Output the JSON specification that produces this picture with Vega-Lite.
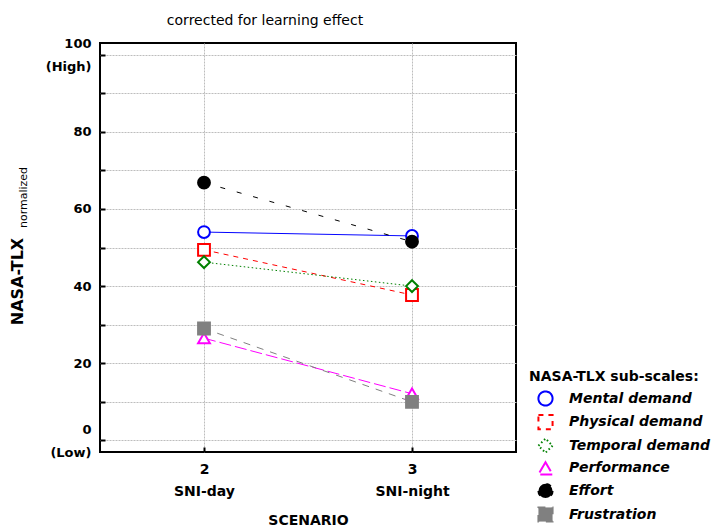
{
  "$schema": "https://vega.github.io/schema/vega-lite/v6.json",
  "width": 416,
  "height": 409,
  "autosize": {"type": "none"},
  "padding": {"left": 100, "top": 43, "right": 210, "bottom": 79},
  "background": "white",
  "title": {"text": "corrected for learning effect", "font": "DejaVu Sans", "fontSize": 14, "fontWeight": "normal", "color": "black", "anchor": "middle", "dx": -43, "offset": 20, "dy": 21, "baseline": "alphabetic"},
  "config": {
    "view": {"stroke": "black", "strokeWidth": 2},
    "axis": {"gridColor": "#bdbdbd", "gridDash": [2, 1], "gridWidth": 1, "domain": false, "ticks": false, "labelColor": "black", "titleColor": "black", "labelFont": "DejaVu Sans", "titleFont": "DejaVu Sans"},
    "legend": {"orient": "none", "legendX": 429, "legendY": 327, "title": "NASA-TLX sub-scales:", "titleFont": "DejaVu Sans", "titleFontSize": 14, "titleFontWeight": "bold", "titleColor": "black", "titlePadding": 6, "labelFont": "DejaVu Sans", "labelFontSize": 14, "labelFontStyle": "italic", "labelFontWeight": "bold", "labelColor": "black", "labelOffset": 15, "symbolSize": 200, "symbolStrokeWidth": 2, "symbolOffset": 8, "rowPadding": 0.6, "padding": 0}
  },
  "data": {"values": [
    {"series": "Mental demand", "dash": "Mental demand", "scenario": 2, "value": 54.0},
    {"series": "Mental demand", "dash": "Mental demand", "scenario": 3, "value": 53.0},
    {"series": "Physical demand", "dash": "Physical demand", "scenario": 2, "value": 49.4},
    {"series": "Physical demand", "dash": "Physical demand", "scenario": 3, "value": 37.7},
    {"series": "Temporal demand", "dash": "Temporal demand", "scenario": 2, "value": 46.2},
    {"series": "Temporal demand", "dash": "Temporal demand", "scenario": 3, "value": 40.0},
    {"series": "Performance", "dash": "Performance", "scenario": 2, "value": 26.5},
    {"series": "Performance", "dash": "Performance", "scenario": 3, "value": 12.1},
    {"series": "Effort", "dash": "Effort", "scenario": 2, "value": 66.8},
    {"series": "Effort", "dash": "Effort", "scenario": 3, "value": 51.5},
    {"series": "Frustration", "dash": "Frustration", "scenario": 2, "value": 29.0},
    {"series": "Frustration", "dash": "Frustration", "scenario": 3, "value": 10.0}
  ]},
  "encoding": {
    "x": {"field": "scenario", "type": "quantitative", "scale": {"domain": [1.5, 3.5], "nice": false, "zero": false},
      "axis": {"values": [2, 3], "grid": true, "ticks": true, "tickSize": -5, "tickWidth": 2, "tickColor": "black", "labelExpr": "datum.value == 2 ? ['2', 'SNI-day'] : ['3', 'SNI-night']", "labelFontSize": 14, "labelFontWeight": "bold", "labelPadding": 15, "labelLineHeight": 22, "labelBaseline": "top", "labelOverlap": false, "labelBound": false, "title": "SCENARIO", "titleFontSize": 14, "titleFontWeight": "bold", "titleY": 68, "titleBaseline": "middle"}}
  },
  "layer": [
    {
      "mark": {"type": "line", "strokeWidth": 1},
      "encoding": {
        "y": {"field": "value", "type": "quantitative", "scale": {"domain": [-3, 103], "nice": false, "zero": false},
          "axis": {"values": [0, 10, 20, 30, 40, 50, 60, 70, 80, 90, 100], "grid": true, "ticks": true, "tickSize": -5, "tickWidth": 2, "tickColor": "black", "labelExpr": "datum.value == 100 ? ['100', '(High)'] : datum.value == 0 ? ['0', '(Low)'] : datum.value % 20 == 0 ? datum.label : ''", "labelFontSize": 13, "labelFontWeight": "bold", "labelPadding": 14, "labelLineHeight": 23, "labelBaseline": "middle", "labelOffset": {"condition": {"test": "datum.value == 100 || datum.value == 0", "value": -11}, "value": 0}, "labelOverlap": false, "labelBound": false, "title": "NASA-TLX", "titleFontSize": 16, "titleFontWeight": "bold", "titleX": -83, "titleY": 238, "titleAngle": -90, "titleAlign": "center", "titleBaseline": "middle"}},
        "stroke": {"field": "series", "type": "nominal",
          "scale": {"domain": ["Mental demand", "Physical demand", "Temporal demand", "Performance", "Effort", "Frustration"], "range": ["#0000ff", "#ff0000", "#008000", "#ff00ff", "#000000", "#808080"]},
          "legend": {"title": "NASA-TLX sub-scales:"}},
        "strokeDash": {"field": "dash", "type": "nominal",
          "scale": {"domain": ["Mental demand", "Physical demand", "Temporal demand", "Performance", "Effort", "Frustration"], "range": [[1, 0], [5, 5], [1.5, 2.5], [12, 4], [5, 12], [7, 7]]},
          "legend": null}
      }
    },
    {
      "mark": {"type": "point", "size": 140, "strokeWidth": 2, "opacity": 1},
      "encoding": {
        "y": {"field": "value", "type": "quantitative", "scale": {"domain": [-3, 103], "nice": false, "zero": false},
          "axis": {"orient": "right", "labels": false, "grid": false, "ticks": false, "domain": false, "title": "normalized", "titleFont": "DejaVu Sans", "titleFontSize": 11, "titleFontWeight": "normal", "titleX": -493, "titleY": 154, "titleAngle": -90, "titleAlign": "center", "titleBaseline": "middle"}},
        "stroke": {"field": "series", "type": "nominal",
          "scale": {"domain": ["Mental demand", "Physical demand", "Temporal demand", "Performance", "Effort", "Frustration"], "range": ["#0000ff", "#ff0000", "#008000", "#ff00ff", "#000000", "#808080"]},
          "legend": {"title": "NASA-TLX sub-scales:"}},
        "fill": {"field": "series", "type": "nominal",
          "scale": {"domain": ["Mental demand", "Physical demand", "Temporal demand", "Performance", "Effort", "Frustration"], "range": ["white", "white", "white", "white", "#000000", "#808080"]},
          "legend": {"title": "NASA-TLX sub-scales:"}},
        "shape": {"field": "series", "type": "nominal",
          "scale": {"domain": ["Mental demand", "Physical demand", "Temporal demand", "Performance", "Effort", "Frustration"], "range": ["circle", "square", "diamond", "triangle-up", "circle", "square"]},
          "legend": {"title": "NASA-TLX sub-scales:"}}
      }
    }
  ],
  "resolve": {"scale": {"y": "independent"}, "axis": {"y": "independent"}}
}
